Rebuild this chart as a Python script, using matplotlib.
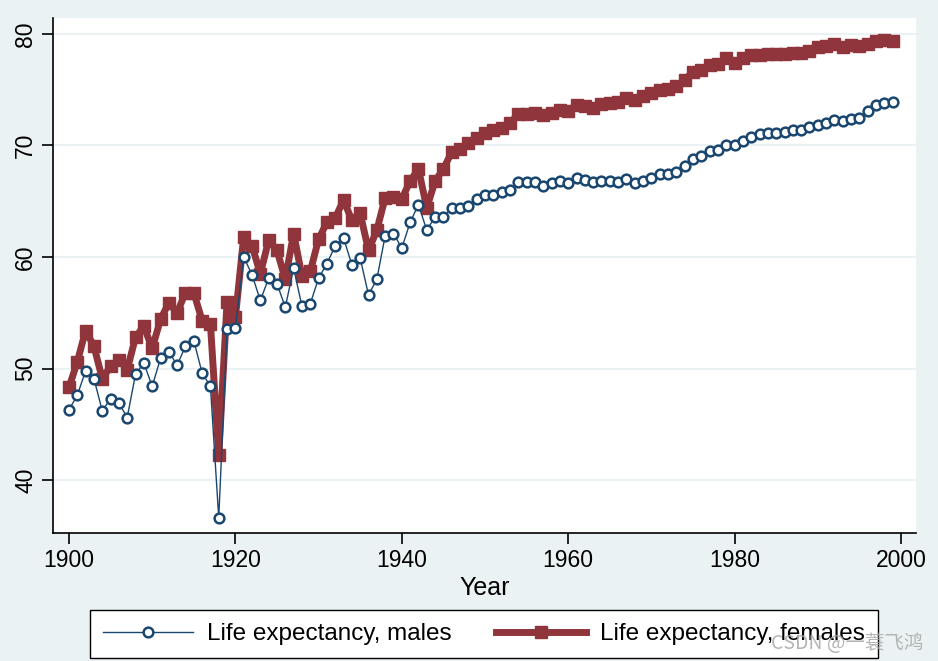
import matplotlib
matplotlib.use('Agg')
import matplotlib.pyplot as plt
import numpy as np

plt.rcParams['font.family'] = ['Liberation Sans', 'DejaVu Sans']

years = list(range(1900, 2000))
le_male = [46.3, 47.6, 49.8, 49.1, 46.2, 47.3, 46.9, 45.6, 49.5, 50.5,
           48.4, 50.9, 51.5, 50.3, 52.0, 52.5, 49.6, 48.4, 36.6, 53.5,
           53.6, 60.0, 58.4, 56.1, 58.1, 57.6, 55.5, 59.0, 55.6, 55.8,
           58.1, 59.4, 61.0, 61.7, 59.3, 59.9, 56.6, 58.0, 61.9, 62.1,
           60.8, 63.1, 64.7, 62.4, 63.6, 63.6, 64.4, 64.4, 64.6, 65.2,
           65.6, 65.6, 65.8, 66.0, 66.7, 66.7, 66.7, 66.4, 66.6, 66.8,
           66.6, 67.1, 66.9, 66.7, 66.8, 66.8, 66.7, 67.0, 66.6, 66.8,
           67.1, 67.4, 67.4, 67.6, 68.2, 68.8, 69.1, 69.5, 69.6, 70.0,
           70.0, 70.4, 70.8, 71.0, 71.1, 71.1, 71.2, 71.4, 71.4, 71.7,
           71.8, 72.0, 72.3, 72.2, 72.4, 72.5, 73.1, 73.6, 73.8, 73.9]
le_female = [48.3, 50.6, 53.4, 52.0, 49.1, 50.2, 50.8, 49.9, 52.8, 53.8,
             51.8, 54.4, 55.9, 55.0, 56.8, 56.8, 54.3, 54.0, 42.2, 56.0,
             54.6, 61.8, 61.0, 58.5, 61.5, 60.6, 58.0, 62.1, 58.3, 58.7,
             61.6, 63.1, 63.5, 65.1, 63.3, 63.9, 60.6, 62.4, 65.3, 65.4,
             65.2, 66.8, 67.9, 64.4, 66.8, 67.9, 69.4, 69.7, 70.2, 70.7,
             71.1, 71.4, 71.6, 72.0, 72.8, 72.8, 72.9, 72.7, 72.9, 73.2,
             73.1, 73.6, 73.5, 73.4, 73.7, 73.8, 73.9, 74.3, 74.1, 74.4,
             74.7, 75.0, 75.1, 75.3, 75.9, 76.6, 76.8, 77.2, 77.3, 77.8,
             77.4, 77.8, 78.1, 78.1, 78.2, 78.2, 78.2, 78.3, 78.3, 78.5,
             78.8, 78.9, 79.1, 78.8, 79.0, 78.9, 79.1, 79.4, 79.5, 79.4]

bg = '#eaf2f3'
navy = '#1a476f'
maroon = '#90353b'

fig = plt.figure(figsize=(9.38, 6.61), dpi=100, facecolor=bg)
ax = fig.add_axes([53/938, 128/661, 863/938, 515/661])
ax.set_facecolor('white')

ax.plot(years, le_female, '-s', color=maroon, lw=5, ms=9, mec=maroon,
        label='Life expectancy, females', zorder=2)
ax.plot(years, le_male, '-o', color=navy, lw=1, ms=7, mfc='white', mec=navy,
        mew=1.8, label='Life expectancy, males', zorder=3)

ax.set_xlim(1898.08, 2001.8)
ax.set_ylim(35.25, 81.43)
ax.set_xticks([1900, 1920, 1940, 1960, 1980, 2000])
ax.set_yticks([40, 50, 60, 70, 80])
ax.grid(axis='y', color=bg, lw=1.5)
ax.set_axisbelow(True)
for s in ['top', 'right']:
    ax.spines[s].set_visible(False)
for s in ['left', 'bottom']:
    ax.spines[s].set_linewidth(1.2)
ax.tick_params(axis='both', labelsize=16.5, length=8, width=1.2)
for lab in ax.get_yticklabels():
    lab.set_rotation(90)
    lab.set_va('center')
ax.set_xlabel('Year', fontsize=18, labelpad=3)

h, l = ax.get_legend_handles_labels()
leg = fig.legend(h[::-1], l[::-1], loc='center', ncol=2,
                 bbox_to_anchor=(484/938, 27/661),
                 borderaxespad=0, fontsize=17.5, frameon=True, fancybox=False,
                 edgecolor='black', framealpha=1, handlelength=3.7,
                 handletextpad=0.6, columnspacing=1.8, borderpad=0.52)
leg.get_frame().set_linewidth(1)

fig.text(0.984, 0.027, 'CSDN @一蓑飞鸿', ha='right', va='center', fontsize=14,
         color='#a8a8a8', alpha=0.85, zorder=10,
         family=['Noto Sans CJK SC', 'DejaVu Sans'])

fig.savefig('out.png', dpi=100, facecolor=bg)
